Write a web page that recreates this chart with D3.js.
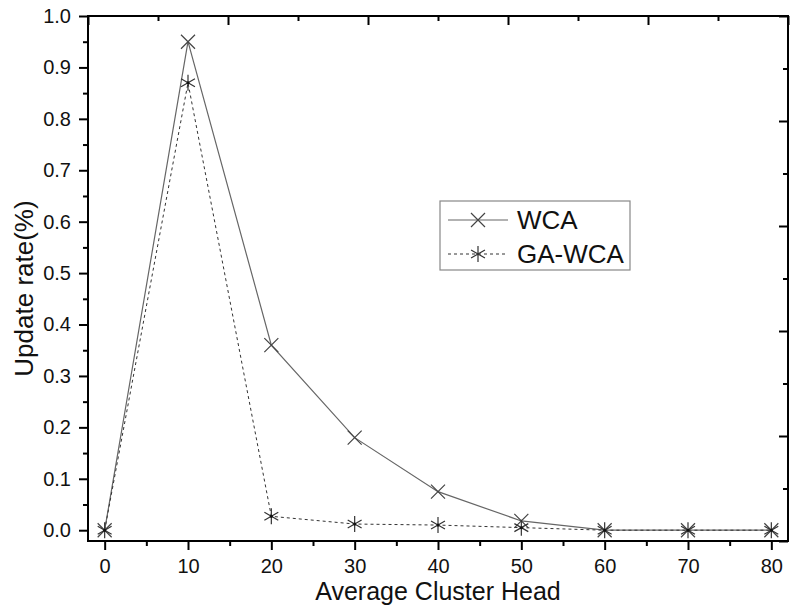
<!DOCTYPE html>
<html>
<head>
  <script src="https://d3js.org/d3.v7.min.js"></script>
  <style>
    body { margin: 0; background: #fff; }
    svg { font-family: "Liberation Sans", Arial, sans-serif; }
  </style>
</head>
<body>
<div id="chart"></div>
<script>
  // data
  const xValues = [0, 10, 20, 30, 40, 50, 60, 70, 80];
  const wca = [0, 0.95, 0.36, 0.18, 0.075, 0.018, 0, 0, 0];
  const gaWca = [0, 0.87, 0.027, 0.012, 0.01, 0.005, 0, 0, 0];
  const xTicks = [0, 10, 20, 30, 40, 50, 60, 70, 80];
  const yTicks = [0, 0.1, 0.2, 0.3, 0.4, 0.5, 0.6, 0.7, 0.8, 0.9, 1.0];
  const seriesNames = ["WCA", "GA-WCA"];

  const width = 790, height = 607;
  const plotLeft = 88, plotRight = 788, plotTop = 16, plotBottom = 541;

  const svg = d3.select("#chart").append("svg")
    .attr("width", width)
    .attr("height", height);

  const x = d3.scaleLinear().domain([-2, 82]).range([plotLeft, plotRight]);
  const y = d3.scaleLinear().domain([-0.021, 1.0]).range([plotBottom, plotTop]);
  // top and right axes in Origin use their own plain division
  const xTop = d3.scaleLinear().domain([0, 5]).range([plotLeft, plotRight]);
  const yRight = d3.scaleLinear().domain([0, 5]).range([plotBottom, plotTop]);

  // frame
  svg.append("rect")
    .attr("x", plotLeft).attr("y", plotTop)
    .attr("width", plotRight - plotLeft).attr("height", plotBottom - plotTop)
    .attr("fill", "none").attr("stroke", "#000").attr("stroke-width", 2);

  function styleAxis(g) {
    g.select(".domain").remove();
    g.selectAll("line").attr("stroke", "#000").attr("stroke-width", 2);
  }

  // bottom axis, major + minor
  svg.append("g")
    .attr("transform", `translate(0,${plotBottom})`)
    .call(d3.axisBottom(x).tickValues(xTicks).tickSize(9).tickPadding(9).tickFormat(d3.format("d")))
    .call(styleAxis)
    .call(g => g.selectAll("text").attr("font-size", 20).attr("fill", "#111"));
  svg.append("g")
    .attr("transform", `translate(0,${plotBottom})`)
    .call(d3.axisBottom(x).tickValues(xTicks.slice(0, -1).map(d => d + 5)).tickSize(5).tickFormat(""))
    .call(styleAxis);

  // left axis, major + minor
  svg.append("g")
    .attr("transform", `translate(${plotLeft},0)`)
    .call(d3.axisLeft(y).tickValues(yTicks).tickSize(9).tickPadding(8).tickFormat(d3.format(".1f")))
    .call(styleAxis)
    .call(g => g.selectAll("text").attr("font-size", 20).attr("fill", "#111"));
  svg.append("g")
    .attr("transform", `translate(${plotLeft},0)`)
    .call(d3.axisLeft(y).tickValues(yTicks.slice(0, -1).map(d => d + 0.05)).tickSize(5).tickFormat(""))
    .call(styleAxis);

  // top axis, ticks inward
  svg.append("g")
    .attr("transform", `translate(0,${plotTop})`)
    .call(d3.axisBottom(xTop).tickValues(d3.range(0, 5.01, 1)).tickSize(9).tickFormat(""))
    .call(styleAxis);
  svg.append("g")
    .attr("transform", `translate(0,${plotTop})`)
    .call(d3.axisBottom(xTop).tickValues(d3.range(0.5, 5, 1)).tickSize(5).tickFormat(""))
    .call(styleAxis);

  // right axis, ticks inward
  svg.append("g")
    .attr("transform", `translate(${plotRight},0)`)
    .call(d3.axisLeft(yRight).tickValues(d3.range(0, 5.01, 1)).tickSize(9).tickFormat(""))
    .call(styleAxis);
  svg.append("g")
    .attr("transform", `translate(${plotRight},0)`)
    .call(d3.axisLeft(yRight).tickValues(d3.range(0.5, 5, 1)).tickSize(5).tickFormat(""))
    .call(styleAxis);

  // axis titles
  svg.append("text")
    .attr("x", (plotLeft + plotRight) / 2).attr("y", 600)
    .attr("text-anchor", "middle")
    .attr("font-size", 25)
    .attr("fill", "#111")
    .text("Average Cluster Head");

  svg.append("text")
    .attr("transform", `translate(33,${(plotTop + plotBottom) / 2 + 10}) rotate(-90)`)
    .attr("text-anchor", "middle")
    .attr("font-size", 26)
    .attr("fill", "#111")
    .text("Update rate(%)");

  // markers
  function crossPath(s) {
    return `M${-s},${-s}L${s},${s}M${-s},${s}L${s},${-s}`;
  }
  function starPath(s) {
    const a = s * 0.87, b = s * 0.5;
    return `M0,${-s}L0,${s}M${-a},${-b}L${a},${b}M${-a},${b}L${a},${-b}`;
  }

  const line = d3.line().x(d => x(d[0])).y(d => y(d[1]));

  // WCA
  const wcaPts = xValues.map((d, i) => [d, wca[i]]);
  svg.append("path")
    .datum(wcaPts)
    .attr("d", line)
    .attr("fill", "none")
    .attr("stroke", "#666")
    .attr("stroke-width", 1.2);
  svg.append("g").selectAll("path")
    .data(wcaPts)
    .join("path")
    .attr("transform", d => `translate(${x(d[0])},${y(d[1])})`)
    .attr("d", crossPath(7))
    .attr("stroke", "#444")
    .attr("stroke-width", 1.2)
    .attr("fill", "none");

  // GA-WCA
  const gaPts = xValues.map((d, i) => [d, gaWca[i]]);
  svg.append("path")
    .datum(gaPts)
    .attr("d", line)
    .attr("fill", "none")
    .attr("stroke", "#333")
    .attr("stroke-width", 1)
    .attr("stroke-dasharray", "3,3");
  svg.append("g").selectAll("path")
    .data(gaPts)
    .join("path")
    .attr("transform", d => `translate(${x(d[0])},${y(d[1])})`)
    .attr("d", starPath(8))
    .attr("stroke", "#333")
    .attr("stroke-width", 1.2)
    .attr("fill", "none");
  svg.append("g").selectAll("circle")
    .data(gaPts)
    .join("circle")
    .attr("cx", d => x(d[0])).attr("cy", d => y(d[1]))
    .attr("r", 1.5).attr("fill", "#111");

  // legend
  const lg = svg.append("g");
  lg.append("rect")
    .attr("x", 440).attr("y", 201)
    .attr("width", 190).attr("height", 69)
    .attr("fill", "#fff").attr("stroke", "#888").attr("stroke-width", 1.2);
  const rows = [220, 254];
  seriesNames.forEach((name, i) => {
    const cy = rows[i];
    lg.append("line")
      .attr("x1", 448).attr("x2", 508).attr("y1", cy).attr("y2", cy)
      .attr("stroke", i === 0 ? "#666" : "#333")
      .attr("stroke-width", i === 0 ? 1.2 : 1)
      .attr("stroke-dasharray", i === 0 ? null : "3,3");
    lg.append("path")
      .attr("transform", `translate(478,${cy})`)
      .attr("d", i === 0 ? crossPath(7) : starPath(8))
      .attr("stroke", i === 0 ? "#444" : "#333")
      .attr("stroke-width", 1.2)
      .attr("fill", "none");
    lg.append("text")
      .attr("x", 517).attr("y", cy + 9)
      .attr("font-size", 26)
      .attr("fill", "#111")
      .text(name);
  });
</script>
</body>
</html>
